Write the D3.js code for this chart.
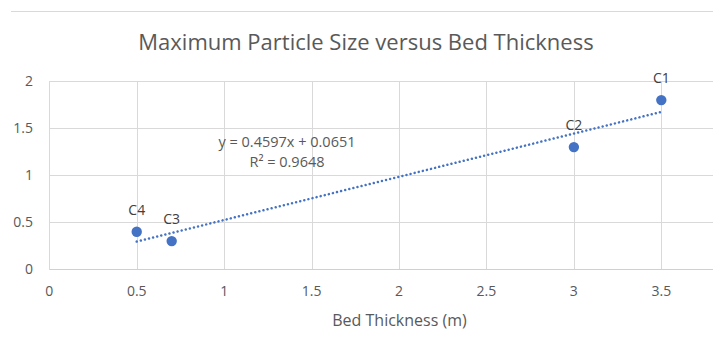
<!DOCTYPE html>
<html><head><meta charset="utf-8">
<script src="https://cdn.jsdelivr.net/npm/d3@7"></script>
<style>body{margin:0;background:#fff}svg{display:block;font-family:"Open Sans",sans-serif}</style>
</head><body><svg id="c" width="713" height="342"></svg>
<script>
const labels = ["C1","C2","C3","C4"];
const thickness = [3.5, 3.0, 0.7, 0.5];
const particleSize = [1.8, 1.3, 0.3, 0.4];
const xTicks = [0,0.5,1,1.5,2,2.5,3,3.5];
const yTicks = [0,0.5,1,1.5,2];
const titleText = "Maximum Particle Size versus Bed Thickness";
const xTitle = "Bed Thickness (m)";

const svg = d3.select("#c");
const x = d3.scaleLinear().domain([0,3.5]).range([49.3,661.3]);
const y = d3.scaleLinear().domain([0,2]).range([269.3,81.3]);
const xMaxPx = 713;

// chart top border
svg.append("line").attr("x1",11).attr("x2",713).attr("y1",11.5).attr("y2",11.5)
  .attr("stroke","#d9d9d9").attr("stroke-width",1);

// gridlines
svg.append("g").selectAll("line").data(yTicks.filter(d=>d>0)).join("line")
  .attr("x1",x(0)).attr("x2",xMaxPx).attr("y1",d=>Math.round(y(d))+0.5).attr("y2",d=>Math.round(y(d))+0.5)
  .attr("stroke","#d9d9d9");
svg.append("g").selectAll("line").data(xTicks).join("line")
  .attr("x1",d=>Math.round(x(d))+0.5).attr("x2",d=>Math.round(x(d))+0.5).attr("y1",y(2)).attr("y2",y(0))
  .attr("stroke","#d9d9d9");
// x axis line
svg.append("line").attr("x1",x(0)).attr("x2",xMaxPx).attr("y1",Math.round(y(0))+0.5).attr("y2",Math.round(y(0))+0.5)
  .attr("stroke","#d0d0d0");

// tick labels
svg.append("g").selectAll("text").data(yTicks).join("text")
  .attr("x",33).attr("y",d=>y(d)).attr("dy","0.35em").attr("text-anchor","end")
  .attr("font-size",14).attr("fill","#595959").text(d=>d);
svg.append("g").selectAll("text").data(xTicks).join("text")
  .attr("x",d=>x(d)).attr("y",296).attr("text-anchor","middle")
  .attr("font-size",14).attr("fill","#595959").text(d=>d);

// title
svg.append("text").attr("x",366).attr("y",50).attr("text-anchor","middle")
  .attr("font-size",22).attr("fill","#595959").text(titleText);
svg.append("text").attr("x",399.5).attr("y",326).attr("text-anchor","middle")
  .attr("font-size",16).attr("fill","#595959").text(xTitle);

// trendline (least squares)
const mx = d3.mean(thickness), my = d3.mean(particleSize);
const sxy = d3.sum(thickness.map((v,i)=>(v-mx)*(particleSize[i]-my)));
const sxx = d3.sum(thickness.map(v=>(v-mx)*(v-mx)));
const syy = d3.sum(particleSize.map(v=>(v-my)*(v-my)));
const slope = sxy/sxx, intercept = my - slope*mx;
const r2 = (sxy*sxy)/(sxx*syy);
const [x0,x1] = d3.extent(thickness);
svg.append("line").attr("x1",x(x0)).attr("y1",y(slope*x0+intercept))
  .attr("x2",x(x1)).attr("y2",y(slope*x1+intercept))
  .attr("stroke","#4472C4").attr("stroke-width",2.5)
  .attr("stroke-dasharray","0.01 4.2").attr("stroke-linecap","round");

// points
const pts = labels.map((l,i)=>({l, x:thickness[i], y:particleSize[i]}));
svg.append("g").selectAll("circle").data(pts).join("circle")
  .attr("cx",d=>x(d.x)).attr("cy",d=>y(d.y)).attr("r",5.2).attr("fill","#4472C4");
svg.append("g").selectAll("text").data(pts).join("text")
  .attr("x",d=>x(d.x)).attr("y",d=>y(d.y)-17).attr("text-anchor","middle")
  .attr("font-size",14).attr("fill","#404040").text(d=>d.l);

// equation
svg.append("text").attr("x",287).attr("y",147).attr("text-anchor","middle")
  .attr("font-size",14.5).attr("fill","#595959")
  .text(`y = ${slope.toFixed(4)}x + ${intercept.toFixed(4)}`);
svg.append("text").attr("x",287).attr("y",167).attr("text-anchor","middle")
  .attr("font-size",14.5).attr("fill","#595959")
  .text(`R² = ${r2.toFixed(4)}`);
</script></body></html>
